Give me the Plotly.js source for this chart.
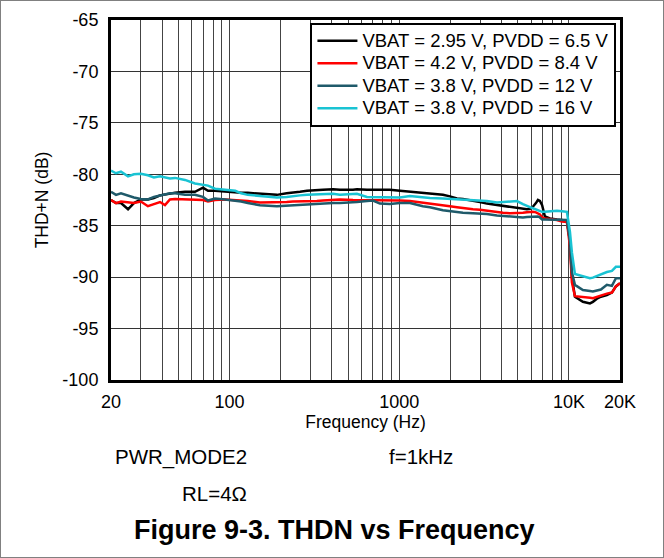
<!DOCTYPE html>
<html>
<head>
<meta charset="utf-8">
<script src="https://cdn.plot.ly/plotly-3.0.1.min.js"></script>
<style>
  html, body { margin: 0; padding: 0; background: #fff; }
  #chart { width: 662px; height: 556px; border: 1px solid #808080; }
</style>
</head>
<body>
<div id="chart"></div>
<script>
// Frequency (Hz)
const freq = [20, 21.4, 22.9, 25.2, 27.3, 30, 33, 35.8, 38.9, 41.6, 44.5, 47.7, 54.6, 62.5, 69.7, 74.6, 82, 94, 108, 117, 128, 151, 190, 217, 236, 260, 286, 327, 355, 407, 447, 534, 563, 645, 700, 769, 881, 1009, 1156, 1379, 1516, 1808, 1989, 2188, 2373, 2718, 2989, 3287, 3764, 4084, 4490, 4938, 5356, 5654, 5890, 6134, 6390, 6566, 6746, 6950, 7220, 7726, 8498, 9093, 9730, 10140, 10412, 10850, 12090, 13300, 13844, 14620, 15434, 16740, 17920, 18916, 20000];

// THD+N (dB)
const vbat295_pvdd65 = [-82.5, -82.8, -82.8, -83.4, -82.8, -82.45, -82.45, -82.3, -82.05, -81.95, -81.85, -81.8, -81.7, -81.7, -81.3, -81.6, -81.6, -81.7, -81.75, -81.8, -81.8, -81.9, -82.0, -81.85, -81.8, -81.7, -81.6, -81.5, -81.5, -81.45, -81.5, -81.5, -81.45, -81.5, -81.5, -81.5, -81.5, -81.6, -81.7, -81.85, -81.9, -82.0, -82.15, -82.35, -82.4, -82.55, -82.7, -82.85, -83.0, -83.1, -83.2, -83.3, -83.35, -83.4, -83.35, -83.15, -82.8, -82.5, -82.6, -83.0, -84.1, -84.3, -84.4, -84.45, -84.5, -86.5, -90.0, -91.9, -92.4, -92.55, -92.4, -92.1, -91.9, -91.75, -91.5, -90.9, -90.6];

const vbat42_pvdd84 = [-82.5, -82.8, -82.65, -82.7, -82.8, -82.65, -83.1, -82.9, -82.7, -83.0, -82.45, -82.4, -82.45, -82.45, -82.5, -82.65, -82.5, -82.45, -82.5, -82.55, -82.6, -82.75, -82.75, -82.7, -82.65, -82.65, -82.65, -82.6, -82.55, -82.5, -82.45, -82.5, -82.5, -82.55, -82.55, -82.55, -82.5, -82.55, -82.6, -82.75, -82.8, -83.0, -83.1, -83.2, -83.3, -83.4, -83.45, -83.55, -83.65, -83.75, -83.8, -83.8, -83.75, -83.7, -83.65, -83.65, -83.7, -83.8, -83.9, -84.2, -84.3, -84.35, -84.45, -84.6, -84.65, -87.0, -90.5, -91.85, -91.9, -92.0, -92.05, -91.9, -91.75, -91.6, -91.5, -90.9, -90.6];

const vbat38_pvdd12 = [-81.7, -82.0, -81.85, -82.1, -82.25, -82.4, -82.45, -82.2, -82.05, -81.9, -81.85, -81.85, -82.0, -82.0, -82.2, -82.55, -82.35, -82.45, -82.55, -82.65, -82.8, -83.0, -83.1, -83.05, -83.0, -82.95, -82.95, -82.85, -82.8, -82.8, -82.8, -82.75, -82.7, -82.6, -82.55, -82.85, -82.9, -82.8, -82.8, -83.1, -83.2, -83.5, -83.6, -83.7, -83.75, -83.8, -83.8, -83.85, -84.0, -84.05, -84.1, -84.2, -84.2, -84.15, -84.15, -84.15, -84.1, -84.1, -84.2, -84.4, -84.4, -84.4, -84.4, -84.4, -84.45, -86.5, -89.5, -90.75, -91.25, -91.35, -91.4, -91.3, -91.2, -90.75, -90.85, -90.1, -90.1];

const vbat38_pvdd16 = [-79.65, -79.9, -79.75, -80.2, -80.0, -79.95, -80.1, -80.3, -80.2, -80.3, -80.4, -80.35, -80.55, -80.9, -81.0, -81.1, -81.4, -81.5, -81.6, -81.85, -82.0, -82.1, -82.25, -82.2, -82.1, -82.05, -82.0, -81.95, -81.9, -81.9, -82.0, -81.95, -81.9, -82.2, -82.2, -82.2, -82.2, -82.25, -82.1, -82.25, -82.3, -82.35, -82.4, -82.4, -82.45, -82.5, -82.55, -82.6, -82.75, -82.7, -82.65, -82.6, -82.9, -83.1, -83.2, -83.3, -83.4, -83.5, -83.55, -83.65, -83.65, -83.6, -83.55, -83.6, -83.65, -85.6, -87.6, -89.7, -89.9, -90.1, -90.05, -89.9, -89.8, -89.5, -89.4, -89.0, -89.0];

const seriesNames = ['VBAT = 2.95 V, PVDD = 6.5 V', 'VBAT = 4.2 V, PVDD = 8.4 V', 'VBAT = 3.8 V, PVDD = 12 V', 'VBAT = 3.8 V, PVDD = 16 V'];
const seriesColors = ['#000000', '#ff0000', '#1f5a6a', '#19c3d3'];

// axis grid / tick labels
const xTickVals = [20, 30, 40, 50, 60, 70, 80, 90, 100, 200, 300, 400, 500, 600, 700, 800, 900, 1000, 2000, 3000, 4000, 5000, 6000, 7000, 8000, 9000, 10000, 20000];
const xTickText = ['20', '', '', '', '', '', '', '', '100', '', '', '', '', '', '', '', '', '1000', '', '', '', '', '', '', '', '', '10K', '20K'];
const yTickVals = [-100, -95, -90, -85, -80, -75, -70, -65];
const yTickText = ['-100', '-95', '-90', '-85', '-80', '-75', '-70', '-65'];

const ys = [vbat295_pvdd65, vbat42_pvdd84, vbat38_pvdd12, vbat38_pvdd16];
const traces = ys.map((y, i) => ({
  x: freq, y: y, type: 'scatter', mode: 'lines',
  name: '<span style="font-size:18.5px">' + seriesNames[i] + '</span>',
  line: { color: seriesColors[i], width: 2.5 }
}));

const FONT = 'Liberation Sans, Arial, Helvetica, sans-serif';

const layout = {
  width: 662, height: 556,
  margin: { l: 110, r: 43, t: 19, b: 177 },
  paper_bgcolor: '#ffffff', plot_bgcolor: '#ffffff',
  font: { family: FONT, size: 15, color: '#000' },
  showlegend: true,
  legend: {
    x: 0.993, xanchor: 'right', y: 0.993, yanchor: 'top',
    bgcolor: '#ffffff', bordercolor: '#000', borderwidth: 2,
    font: { family: FONT, size: 15, color: '#000' },
    itemwidth: 40,
    tracegroupgap: 0
  },
  xaxis: {
    type: 'log',
    range: [Math.log10(20), Math.log10(20000)],
    tickmode: 'array', tickvals: xTickVals, ticktext: xTickText,
    showgrid: true, gridcolor: '#444', gridwidth: 1,
    showline: true, linecolor: '#000', linewidth: 3, mirror: true,
    ticks: '', zeroline: false,
    ticklabelstandoff: 3,
    tickfont: { family: FONT, size: 18, color: '#000' },
    title: { text: 'Frequency (Hz)', font: { family: FONT, size: 17.5, color: '#000' }, standoff: 3 }
  },
  yaxis: {
    range: [-100, -65],
    tickmode: 'array', tickvals: yTickVals, ticktext: yTickText,
    showgrid: true, gridcolor: '#333', gridwidth: 1,
    showline: true, linecolor: '#000', linewidth: 3, mirror: true,
    ticks: '', zeroline: false,
    ticklabelstandoff: 6,
    tickfont: { family: FONT, size: 18, color: '#000' },
    title: { text: 'THD+N (dB)', font: { family: FONT, size: 17.5, color: '#000' }, standoff: 10 }
  },
  annotations: [
    { xref: 'paper', yref: 'paper', x: (248 - 110) / 509, y: -(457 - 380) / 360, xanchor: 'right', yanchor: 'middle',
      text: 'PWR_MODE2', showarrow: false, font: { family: FONT, size: 20.5, color: '#000' } },
    { xref: 'paper', yref: 'paper', x: (386 - 110) / 509, y: -(457 - 380) / 360, xanchor: 'left', yanchor: 'middle',
      text: 'f=1kHz', showarrow: false, font: { family: FONT, size: 20.5, color: '#000' } },
    { xref: 'paper', yref: 'paper', x: (248 - 110) / 509, y: -(493 - 380) / 360, xanchor: 'right', yanchor: 'middle',
      text: 'RL=4Ω', showarrow: false, font: { family: FONT, size: 20.5, color: '#000' } },
    { xref: 'paper', yref: 'paper', x: (333 - 110) / 509, y: -(530 - 380) / 360, xanchor: 'center', yanchor: 'middle',
      text: '<b>Figure 9-3. THDN vs Frequency</b>', showarrow: false, font: { family: FONT, size: 27, color: '#000' } }
  ]
};

Plotly.newPlot('chart', traces, layout, { displayModeBar: false, staticPlot: true });
</script>
</body>
</html>
